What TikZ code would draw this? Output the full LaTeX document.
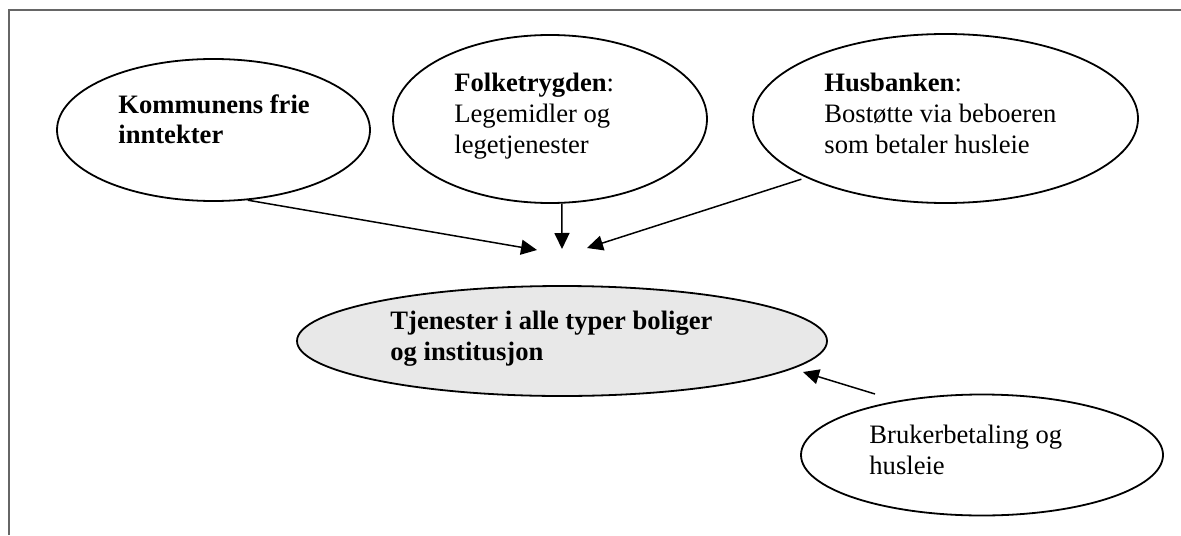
\documentclass[tikz,border=0pt]{standalone}
\usepackage{fontspec}
\setmainfont{Liberation Serif}
\usetikzlibrary{arrows.meta,shapes.geometric}
\definecolor{framegray}{HTML}{666666}
\definecolor{fillgray}{HTML}{E8E8E8}

\begin{document}
\begin{tikzpicture}[x=0.5pt,y=-0.5pt,
		src/.style={ellipse,draw,line width=0.9pt,inner sep=0pt},
		txt/.style={anchor=north west,align=left,inner sep=0pt,font=\fontsize{13.3}{15.3}\selectfont},
		pil/.style={-{Triangle[length=8pt,width=7.5pt]},line width=0.75pt}]
		\useasboundingbox (0,0) rectangle (1181,535);
		\draw[framegray,line width=1.1pt] (9,535) -- (9,10) -- (1181,10);
		% kilder
		\node[src,minimum width=156.5pt,minimum height=71pt] (kom) at (213.5,130) {};
		\node[src,minimum width=157pt,minimum height=84pt] (folk) at (550,119) {};
		\node[src,minimum width=192.5pt,minimum height=84.5pt] (hus) at (945.5,118.5) {};
		\node[src,fill=fillgray,minimum width=265pt,minimum height=55pt] (tjen) at (562,341) {};
		\node[src,minimum width=181pt,minimum height=60.5pt] (bruk) at (982,455) {};
		% tekst
		\node[txt,font=\fontsize{13.3}{15.3}\selectfont\bfseries] (kom_t) at (118,94) {Kommunens frie\\inntekter};
		\node[txt] (folk_t) at (454,73) {\textbf{Folketrygden}:\\Legemidler og\\legetjenester};
		\node[txt] (hus_t) at (824,73) {\textbf{Husbanken}:\\Bostøtte via beboeren\\som betaler husleie};
		\node[txt,font=\fontsize{13.3}{15.3}\selectfont\bfseries] (tjen_t) at (390,311) {Tjenester i alle typer boliger\\og institusjon};
		\node[txt] (bruk_t) at (869,425) {Brukerbetaling og\\husleie};
		% piler
		\coordinate (k_end) at (537,250);
		\coordinate (f_end) at (562,249);
		\coordinate (h_end) at (587,248);
		\coordinate (b_start) at (875,394);
		\coordinate (b_end) at (803,372);
		\path[pil]
		(kom.-64) edge (k_end)
		(folk.-82) edge (f_end)
		(hus.-157) edge[shorten <=2.5pt] (h_end)
		(b_start) edge (b_end);
	\end{tikzpicture}
\end{document}
